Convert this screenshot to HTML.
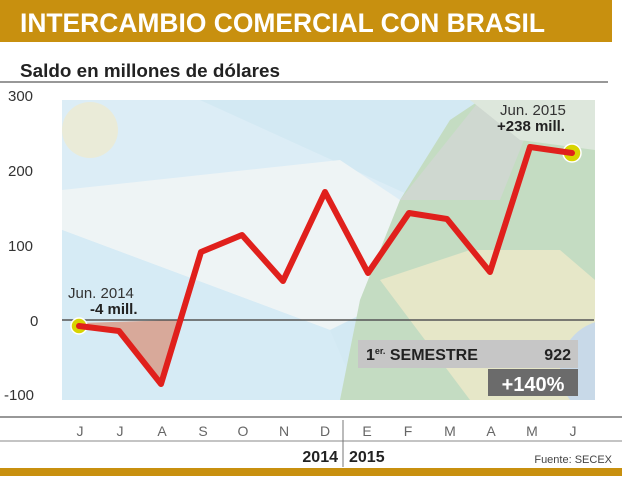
<!DOCTYPE html>
<html><head><meta charset="utf-8"><style>
body{margin:0;background:#fff;width:635px;height:476px;overflow:hidden;font-family:"Liberation Sans",Arial,sans-serif}
</style></head><body>
<svg width="635" height="476" viewBox="0 0 635 476" xmlns="http://www.w3.org/2000/svg" font-family="Liberation Sans, Arial, sans-serif">
<rect x="0" y="0" width="612" height="42" fill="#c8900f"/>
<text x="20" y="32" font-size="27" font-weight="bold" fill="#fff" textLength="525" lengthAdjust="spacingAndGlyphs">INTERCAMBIO COMERCIAL CON BRASIL</text>
<text x="20" y="77" font-size="18" font-weight="bold" fill="#222" textLength="260" lengthAdjust="spacingAndGlyphs">Saldo en millones de dólares</text>
<line x1="0" y1="82" x2="608" y2="82" stroke="#777" stroke-width="1.5"/>
<defs><clipPath id="c"><rect x="62" y="100" width="533" height="300"/></clipPath></defs>
<g clip-path="url(#c)">
<rect x="62" y="100" width="533" height="300" fill="#d3e9f3"/>
<polygon points="62,100 200,100 420,200 340,240 62,190" fill="#dcedf6"/>
<polygon points="62,190 340,160 400,200 390,300 330,330 62,230" fill="#eef4f5"/>
<polygon points="62,230 330,330 360,400 62,400" fill="#d6ebf5"/>
<polygon points="340,400 360,300 400,200 450,120 480,100 595,100 595,400" fill="#c4dcc2"/>
<polygon points="400,200 480,100 540,100 500,200" fill="#cfd8d0"/>
<polygon points="470,100 595,100 595,150 520,140" fill="#dde7dc"/>
<polygon points="380,280 470,250 560,250 595,280 595,400 470,400" fill="#e6e7c8"/>
<circle cx="610" cy="370" r="50" fill="#c8d9e8"/>
<circle cx="90" cy="130" r="28" fill="#f3e9c4" opacity="0.6"/>
<polygon points="80,323 120,331 162,384 178,320" fill="#d8a99a"/>
</g>
<line x1="62" y1="320" x2="594" y2="320" stroke="#555" stroke-width="1.5"/>
<g font-size="15" fill="#333">
<text x="8" y="101">300</text><text x="8" y="176">200</text><text x="8" y="251">100</text><text x="30" y="326">0</text><text x="4" y="400">-100</text>
</g>
<circle cx="79" cy="326" r="8" fill="#d8d400" stroke="#fff" stroke-width="1.5"/>
<circle cx="572" cy="153" r="9" fill="#d8d400" stroke="#fff" stroke-width="1.5"/>
<polyline points="79,326 119,331 161,384 201,252 242,235 283,281 325,192 368,273 409,213 447,219 490,272 530,147 572,153" fill="none" stroke="#e0201c" stroke-width="6" stroke-linejoin="round" stroke-linecap="round"/>
<text x="68" y="298" font-size="15" fill="#333">Jun. 2014</text>
<text x="90" y="314" font-size="15" font-weight="bold" fill="#222">-4 mill.</text>
<text x="500" y="115" font-size="15" fill="#333">Jun. 2015</text>
<text x="497" y="131" font-size="15" font-weight="bold" fill="#222">+238 mill.</text>
<rect x="358" y="340" width="220" height="28" fill="#c6c6c6"/>
<text x="366" y="360" font-size="16" font-weight="bold" fill="#222">1<tspan font-size="9" dy="-6">er.</tspan><tspan dy="6"> SEMESTRE</tspan></text>
<text x="571" y="360" font-size="16" font-weight="bold" fill="#222" text-anchor="end">922</text>
<rect x="488" y="369" width="90" height="27" fill="#6b6b6b"/>
<text x="533" y="391" font-size="20" font-weight="bold" fill="#fff" text-anchor="middle">+140%</text>
<line x1="0" y1="417" x2="622" y2="417" stroke="#777" stroke-width="1.5"/>
<line x1="0" y1="441" x2="622" y2="441" stroke="#888" stroke-width="1"/>
<line x1="343" y1="420" x2="343" y2="467" stroke="#777" stroke-width="1"/>
<g font-size="14" fill="#666" text-anchor="middle">
<text x="80" y="436">J</text><text x="120" y="436">J</text><text x="162" y="436">A</text><text x="203" y="436">S</text><text x="243" y="436">O</text><text x="284" y="436">N</text><text x="325" y="436">D</text><text x="367" y="436">E</text><text x="408" y="436">F</text><text x="450" y="436">M</text><text x="491" y="436">A</text><text x="532" y="436">M</text><text x="573" y="436">J</text>
</g>
<text x="338" y="462" font-size="16" font-weight="bold" fill="#222" text-anchor="end">2014</text>
<text x="349" y="462" font-size="16" font-weight="bold" fill="#222">2015</text>
<text x="612" y="463" font-size="11" fill="#444" text-anchor="end">Fuente: SECEX</text>
<rect x="0" y="468" width="622" height="8" fill="#c8900f"/>
</svg>
</body></html>
